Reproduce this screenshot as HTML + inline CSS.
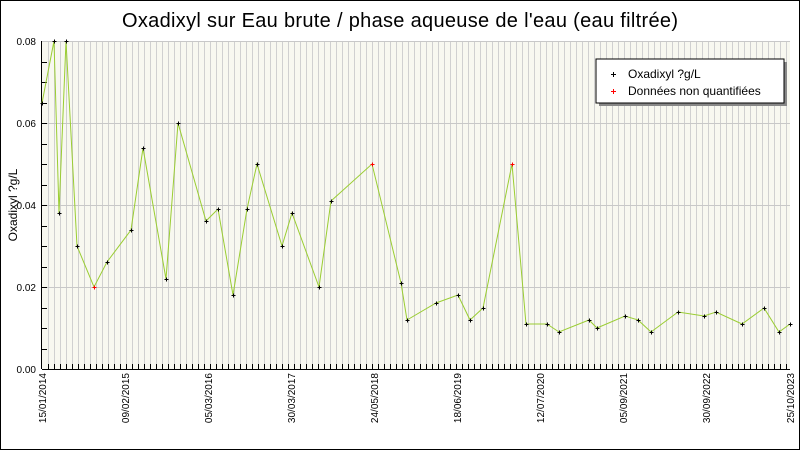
<!DOCTYPE html>
<html><head><meta charset="utf-8"><style>
html,body{margin:0;padding:0;background:#fff}
svg{display:block;font-family:"Liberation Sans","DejaVu Sans",sans-serif}
</style></head><body>
<svg width="800" height="450" viewBox="0 0 800 450" xmlns="http://www.w3.org/2000/svg">
<rect x="0.5" y="0.5" width="799" height="449" fill="#fff" stroke="#000"/>
<text x="400" y="27" font-size="20" text-anchor="middle" fill="#000" textLength="556">Oxadixyl sur Eau brute / phase aqueuse de l'eau (eau filtrée)</text>
<rect x="42" y="41" width="748" height="328" fill="#f8f8f0"/>
<g id="vg" stroke="#d0d0d0" stroke-width="1"></g>
<g stroke="#c8c8c8">
<line x1="42" y1="123.5" x2="790" y2="123.5"/>
<line x1="42" y1="205.5" x2="790" y2="205.5"/>
<line x1="42" y1="287.5" x2="790" y2="287.5"/>
<line x1="42" y1="41.5" x2="790" y2="41.5"/>
</g>
<g id="ticks" stroke="#000"></g>
<line x1="41.5" y1="41" x2="41.5" y2="369" stroke="#000"/>
<line x1="42" y1="369.5" x2="790" y2="369.5" stroke="#000"/>
<g font-size="10" fill="#000" text-anchor="end">
<text x="36" y="45">0.08</text>
<text x="36" y="127">0.06</text>
<text x="36" y="209">0.04</text>
<text x="36" y="291">0.02</text>
<text x="36" y="373">0.00</text>
</g>
<text transform="translate(17,205) rotate(-90)" font-size="12" text-anchor="middle">Oxadixyl ?g/L</text>
<g font-size="10" fill="#000" text-anchor="end" id="xl"></g>
<polyline id="pl" fill="none" stroke="#9acd32" stroke-width="1"/>
<g id="pts"></g>
<rect x="599" y="62" width="188" height="44" fill="#888"/>
<rect x="596" y="59" width="188" height="44" fill="#fff" stroke="#000"/>
<g stroke="#000"><line x1="611" y1="74.5" x2="616" y2="74.5"/><line x1="613.5" y1="72" x2="613.5" y2="77"/></g>
<g stroke="#f00"><line x1="611" y1="91.5" x2="616" y2="91.5"/><line x1="613.5" y1="89" x2="613.5" y2="94"/></g>
<text x="628" y="78" font-size="12">Oxadixyl ?g/L</text>
<text x="628" y="95" font-size="12">Données non quantifiées</text>
</svg>
<script>
var ns="http://www.w3.org/2000/svg";
function el(t,a,p){var e=document.createElementNS(ns,t);for(var k in a)e.setAttribute(k,a[k]);document.getElementById(p).appendChild(e);return e;}
for(var x=48;x<790;x+=6){el("line",{x1:x+.5,y1:41,x2:x+.5,y2:369},"vg");el("line",{x1:x+.5,y1:364,x2:x+.5,y2:369},"ticks");}
for(var i=1;i<16;i++){var y=Math.round(369-i*20.5)+.5;el("line",{x1:42,y1:y,x2:47,y2:y},"ticks");}
var labs=["15/01/2014","09/02/2015","05/03/2016","30/03/2017","24/05/2018","18/06/2019","12/07/2020","05/09/2021","30/09/2022","25/10/2023"];
var lx=[42,125,208,291,374,457,540,623,706,790];
labs.forEach(function(l,i){var t=el("text",{transform:"translate("+(lx[i]+4)+",373) rotate(-90)"},"xl");t.textContent=l;});
var d=[[42,103],[54,41],[59,213],[66,41],[77,246],[94,287,1],[107,262],[131,230],[143,148],[166,279],[178,123],[206,221],[218,209],[233,295],[247,209],[257,164],[282,246],[292,213],[319,287],[331,201],[372,164,1],[401,283],[407,320],[436,303],[458,295],[470,320],[483,308],[512,164,1],[526,324],[547,324],[559,332],[589,320],[597,328],[625,316],[638,320],[651,332],[678,312],[704,316],[716,312],[742,324],[764,308],[779,332],[790,324]];
document.getElementById("pl").setAttribute("points",d.map(function(p){return p[0]+","+p[1]}).join(" "));
d.forEach(function(p){var c=p[2]?"#f00":"#000";el("line",{x1:p[0]-1.5,y1:p[1]+.5,x2:p[0]+2.5,y2:p[1]+.5,stroke:c},"pts");el("line",{x1:p[0]+.5,y1:p[1]-1.5,x2:p[0]+.5,y2:p[1]+2.5,stroke:c},"pts");});
</script>
</body></html>
